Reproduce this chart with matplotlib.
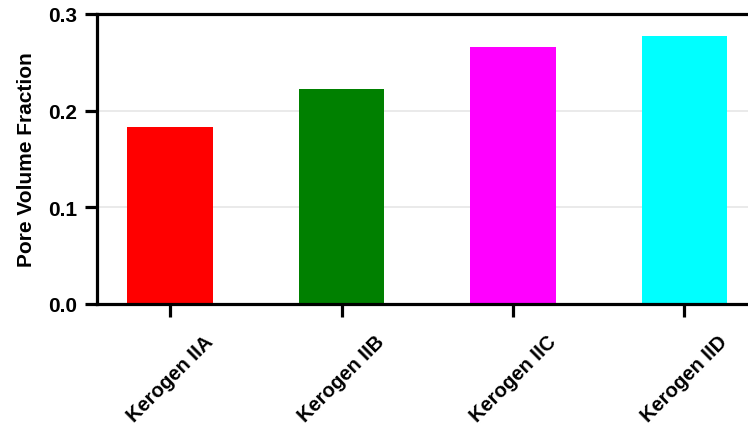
import matplotlib.pyplot as plt

categories = ['Kerogen IIA', 'Kerogen IIB', 'Kerogen IIC', 'Kerogen IID']
pore_fraction = [0.183, 0.222, 0.266, 0.277]
bar_colors = ['#ff0000', '#008000', '#ff00ff', '#00ffff']
y_ticks = [0.0, 0.1, 0.2, 0.3]

plt.rcParams['font.family'] = ['Liberation Sans', 'DejaVu Sans']
plt.rcParams['font.weight'] = 'bold'

fig = plt.figure(figsize=(7.48, 4.27), dpi=100)
W, H = 748, 427
# axes box in pixels: left 97, right ~757 (past the edge), top 15, bottom 305
ax = fig.add_axes([97 / W, (H - 305) / H, (757.5 - 97) / W, (305 - 15) / H])

x = range(len(categories))
ax.bar(x, pore_fraction, width=0.5, color=bar_colors, zorder=2)

ax.set_xlim(-0.426, len(categories) - 1 + 0.426)
ax.set_ylim(0, 0.3)
ax.set_yticks(y_ticks)
ax.set_yticklabels([f'{v:.1f}' for v in y_ticks], fontsize=15, fontweight='bold')
ax.set_xticks(list(x))
ax.set_xticklabels(categories, rotation=45, ha='center', va='top',
                   fontsize=14.5, fontweight='bold')
ax.set_ylabel('Pore Volume Fraction', fontsize=15, fontweight='bold', labelpad=9)

ax.yaxis.grid(True, color='#e6e6e6', linewidth=1.2, zorder=0)
ax.set_axisbelow(True)

for side in ['left', 'bottom', 'top']:
    ax.spines[side].set_linewidth(2.3)
ax.spines['right'].set_visible(False)
ax.tick_params(axis='y', width=2.3, length=9, pad=5)
ax.tick_params(axis='x', width=2.3, length=9, pad=11)

fig.savefig('out.png', dpi=100)
